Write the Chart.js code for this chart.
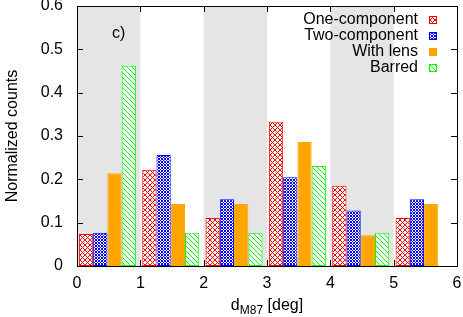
<!DOCTYPE html>
<html lang="en">
<head>
<meta charset="UTF-8">
<title>Normalized counts vs d_M87</title>
<script src="https://cdn.jsdelivr.net/npm/chart.js"></script>
<style>
  html, body { margin: 0; padding: 0; background: #fff; }
</style>
</head>
<body>
<canvas id="grafico" width="463" height="317"></canvas>
<script>
// bins (left edge, deg) and the normalized counts of each sample
const binStarts = [0, 1, 2, 3, 4, 5];
const oneComponent = [0.074, 0.222, 0.111, 0.333, 0.185, 0.111];
const twoComponent = [0.077, 0.256, 0.154, 0.205, 0.128, 0.154];
const withLens = [0.214, 0.143, 0.143, 0.286, 0.071, 0.143];
const barred = [0.462, 0.077, 0.077, 0.231, 0.077, null];
const seriesNames = ['One-component', 'Two-component', 'With lens', 'Barred'];
const xTicks = [0, 1, 2, 3, 4, 5, 6];
const yTicks = [0, 0.1, 0.2, 0.3, 0.4, 0.5, 0.6];
const shadedBins = [[0, 1], [2, 3], [4, 5]];

const FONT = '"Liberation Sans", Arial, sans-serif';
const canvas = document.getElementById('grafico');
const ctx = canvas.getContext('2d');

// gnuplot-like fill patterns
function hatch(color, size, dirs) {
  const c = document.createElement('canvas');
  c.width = size; c.height = size;
  const g = c.getContext('2d');
  g.fillStyle = '#fff';
  g.fillRect(0, 0, size, size);
  g.strokeStyle = color;
  g.lineWidth = 1;
  g.beginPath();
  if (dirs.indexOf('\\') >= 0) { g.moveTo(-1, -1); g.lineTo(size + 1, size + 1); }
  if (dirs.indexOf('/') >= 0) { g.moveTo(-1, size + 1); g.lineTo(size + 1, -1); }
  g.stroke();
  return ctx.createPattern(c, 'repeat');
}

const fills = [hatch('#ff0000', 5, '\\/'), hatch('#0000ff', 3, '\\/'), '#ffa500', hatch('#00ff00', 5, '\\')];
const borders = ['#ff0000', '#0000ff', '#ffa500', '#00ff00'];
const values = [oneComponent, twoComponent, withLens, barred];

const datasets = values.map((arr, i) => ({
  label: seriesNames[i],
  data: binStarts.map((b, k) => ({ x: b + 0.48, y: arr[k] })),
  backgroundColor: fills[i],
  borderColor: borders[i],
  borderWidth: 1,
  borderSkipped: false,
  categoryPercentage: 0.9,
  barPercentage: 1.0
}));

const decor = {
  id: 'decor',
  beforeDatasetsDraw(chart) {
    const { ctx, chartArea: a, scales: { x } } = chart;
    ctx.save();
    ctx.fillStyle = '#e5e5e5';
    shadedBins.forEach(([s, e]) => {
      const x0 = x.getPixelForValue(s), x1 = x.getPixelForValue(e);
      ctx.fillRect(x0, a.top, x1 - x0, a.bottom - a.top);
    });
    ctx.restore();
  },
  afterDatasetsDraw(chart) {
    const { ctx, chartArea: a, scales: { x, y } } = chart;
    ctx.save();
    // frame + inward ticks
    ctx.strokeStyle = '#000';
    ctx.lineWidth = 1;
    ctx.strokeRect(Math.round(a.left) + 0.5, Math.round(a.top) + 0.5,
      Math.round(a.right - a.left), Math.round(a.bottom - a.top));
    ctx.beginPath();
    yTicks.forEach(v => {
      const py = Math.round(y.getPixelForValue(v)) + 0.5;
      ctx.moveTo(a.left, py); ctx.lineTo(a.left + 6, py);
      ctx.moveTo(a.right, py); ctx.lineTo(a.right - 6, py);
    });
    xTicks.forEach(v => {
      const px = Math.round(x.getPixelForValue(v)) + 0.5;
      ctx.moveTo(px, a.bottom); ctx.lineTo(px, a.bottom - 6);
      ctx.moveTo(px, a.top); ctx.lineTo(px, a.top + 6);
    });
    ctx.stroke();

    // panel label
    ctx.fillStyle = '#000';
    ctx.font = '16px ' + FONT;
    ctx.textBaseline = 'middle';
    ctx.textAlign = 'left';
    ctx.fillText('c)', 112, 34);

    // legend, text right-aligned with sample on the right
    ctx.font = '16px ' + FONT;
    ctx.textAlign = 'right';
    seriesNames.forEach((name, i) => {
      const cy = 20 + i * 16;
      ctx.fillStyle = '#000';
      ctx.fillText(name, 418, cy);
      ctx.fillStyle = fills[i];
      ctx.fillRect(429, cy - 4, 8, 8);
      ctx.strokeStyle = borders[i];
      ctx.strokeRect(429.5, cy - 3.5, 7, 7);
    });

    // axis titles
    ctx.fillStyle = '#000';
    ctx.textAlign = 'left';
    ctx.textBaseline = 'alphabetic';
    const big = '16px ' + FONT, small = '12px ' + FONT;
    ctx.font = big; const w1 = ctx.measureText('d').width, w3 = ctx.measureText(' [deg]').width;
    ctx.font = small; const w2 = ctx.measureText('M87').width;
    let tx = (a.left + a.right) / 2 - (w1 + w2 + w3) / 2;
    const base = 310;
    ctx.font = big; ctx.fillText('d', tx, base); tx += w1;
    ctx.font = small; ctx.fillText('M87', tx, base + 4); tx += w2;
    ctx.font = big; ctx.fillText(' [deg]', tx, base);

    ctx.translate(13, (a.top + a.bottom) / 2);
    ctx.rotate(-Math.PI / 2);
    ctx.textAlign = 'center';
    ctx.textBaseline = 'middle';
    ctx.font = big;
    ctx.fillText('Normalized counts', 0, 0);
    ctx.restore();
  }
};

new Chart(ctx, {
  type: 'bar',
  data: { datasets },
  options: {
    responsive: false,
    animation: false,
    layout: { padding: { top: 6, right: 6, left: 0, bottom: 0 } },
    plugins: { legend: { display: false }, tooltip: { enabled: false } },
    scales: {
      x: {
        type: 'linear',
        min: 0, max: 6,
        offset: false,
        grid: { display: false, drawTicks: false },
        border: { display: false },
        afterBuildTicks: s => { s.ticks = xTicks.map(v => ({ value: v })); },
        afterFit: s => { s.height = 51; s.paddingLeft = 0; s.paddingRight = 0; },
        ticks: { color: '#000', font: { family: FONT, size: 16 }, padding: 8, maxRotation: 0 }
      },
      y: {
        min: 0, max: 0.6,
        grid: { display: false, drawTicks: false },
        border: { display: false },
        afterBuildTicks: s => { s.ticks = yTicks.map(v => ({ value: v })); },
        afterFit: s => { s.width = 77; s.paddingTop = 0; s.paddingBottom = 0; },
        ticks: { color: '#000', font: { family: FONT, size: 16 }, padding: 14,
          callback: v => String(+v.toFixed(1)) }
      }
    }
  },
  plugins: [decor]
});
</script>
</body>
</html>
